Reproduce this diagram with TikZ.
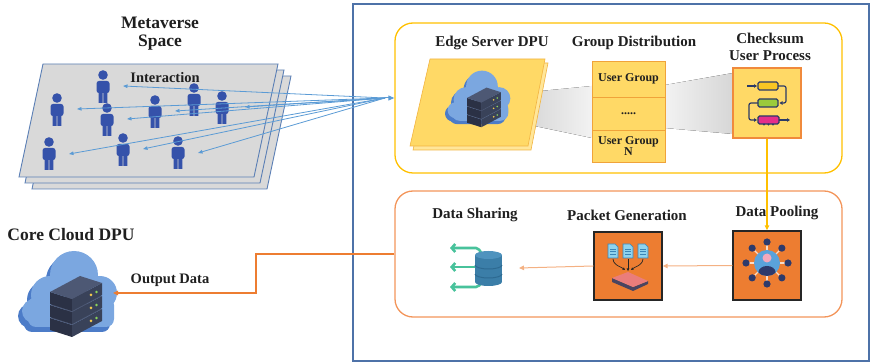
\documentclass[tikz,border=0pt]{standalone}
\usepackage{fontspec}
\setmainfont{Liberation Serif}
\usetikzlibrary{arrows.meta}

% palette
\definecolor{txt}{HTML}{1F1F1F}
\definecolor{framebl}{HTML}{4E72A8}
\definecolor{yelbox}{HTML}{FFC000}
\definecolor{orgbox}{HTML}{F3955A}
\definecolor{yfill}{HTML}{FFD966}
\definecolor{yback}{HTML}{FFE699}
\definecolor{yedge}{HTML}{F2B441}
\definecolor{tblorg}{HTML}{F0A33A}
\definecolor{chkorg}{HTML}{F08A3C}
\definecolor{oboxfill}{HTML}{ED7D31}
\definecolor{oboxline}{HTML}{262626}
\definecolor{peach}{HTML}{F4B183}
\definecolor{orng}{HTML}{ED7D31}
\definecolor{pgray}{HTML}{D9D9D9}
\definecolor{pborder}{HTML}{5B7FB5}
\definecolor{pblue}{HTML}{3552AA}
\definecolor{lblue}{HTML}{5B9BD5}
\definecolor{clouddk}{HTML}{4C7CC8}
\definecolor{cloudlt}{HTML}{7BA7E0}
\definecolor{srvtop}{HTML}{4D5874}
\definecolor{srvleft}{HTML}{2B3145}
\definecolor{srvright}{HTML}{394259}
\definecolor{ledg}{HTML}{8CD45A}
\definecolor{ledy}{HTML}{F2C94C}
\definecolor{chknavy}{HTML}{2B3A67}
\definecolor{chky}{HTML}{F9C623}
\definecolor{chkg}{HTML}{9BCB3B}
\definecolor{chkm}{HTML}{E52E8A}
\definecolor{docfill}{HTML}{8FD3EE}
\definecolor{docline}{HTML}{3A86B8}
\definecolor{trayt}{HTML}{EA7D7B}
\definecolor{trayd}{HTML}{4A4560}
\definecolor{poolblue}{HTML}{5AA2DA}
\definecolor{poolpink}{HTML}{F5A8BC}
\definecolor{poolnavy}{HTML}{2E3A6B}
\definecolor{poolline}{HTML}{FADCC8}
\definecolor{sharegreen}{HTML}{48C29B}
\definecolor{cyl}{HTML}{3B7EA8}
\definecolor{cyltop}{HTML}{4F93BE}
\definecolor{cylband}{HTML}{2D6A91}

% isometric rack of three servers; #1,#2 = left corner of the top face, #3 = scale
\newcommand{\srvstack}[3]{%
  \begin{scope}[shift={(#1,#2)}, scale=#3]
    \foreach \d in {26,13,0}{
      \fill[srvleft]  (0,\d) -- (22,\d+7) -- (22,\d+19) -- (0,\d+12) -- cycle;
      \fill[srvright] (22,\d+7) -- (52,\d-9) -- (52,\d+3) -- (22,\d+19) -- cycle;
      \fill[srvtop]   (0,\d) -- (30,\d-16) -- (52,\d-9) -- (22,\d+7) -- cycle;
      \fill[ledy] (41,\d+2.9) circle (1.4);
      \fill[ledg] (46.5,\d+0.1) circle (1.4);
    }
  \end{scope}}

% two-tone cloud; #1,#2 = top-left corner, #3 = scale
\newcommand{\cloudicon}[3]{%
  \begin{scope}[shift={(#1,#2)}, scale=#3]
    \begin{scope}[shift={(-4,5)}]
      \fill[clouddk] (56,28) circle (24) (82,46) circle (17) (32,48) circle (19) (16,64) circle (12);
      \fill[clouddk, rounded corners=8pt] (10,50) rectangle (96,80);
    \end{scope}
    \fill[cloudlt] (56,28) circle (24) (82,46) circle (17) (32,48) circle (19) (16,64) circle (12);
    \fill[cloudlt, rounded corners=8pt] (10,50) rectangle (96,80);
  \end{scope}}

% standing user figure; #1 = centre x, #2 = top of head
\newcommand{\persona}[2]{%
  \begin{scope}[shift={(#1,#2)}]
    \fill[pblue] (0,5) circle (4.8);
    \fill[pblue, rounded corners=2.5pt] (-6.5,23) rectangle (6.5,11);
    \fill[pblue] (-4.3,21) rectangle (-0.4,33) (0.4,21) rectangle (4.3,33);
  \end{scope}}

\begin{document}
\begin{tikzpicture}[x=1pt, y=-1pt,
  lbl/.style={font=\fontsize{15}{17}\selectfont\bfseries, text=txt, inner sep=0pt, align=center},
  biglbl/.style={font=\fontsize{17.5}{18}\selectfont\bfseries, text=txt, inner sep=0pt, align=center},
  smlbl/.style={font=\fontsize{14.5}{16}\selectfont\bfseries, text=txt, inner sep=0pt},
  cell/.style={draw=tblorg, fill=yfill, line width=0.9pt, minimum width=73pt, inner sep=0pt,
    font=\fontsize{12}{12}\selectfont\bfseries, text=txt, align=center},
  obox/.style={draw=oboxline, fill=oboxfill, line width=1.4pt, minimum width=68pt, minimum height=68pt, inner sep=0pt},
  panel/.style={line width=1.3pt, rounded corners=18pt, minimum width=447pt, inner sep=0pt},
  userarrow/.style={lblue, line width=0.8pt, -{Triangle[length=4.5pt,width=3.5pt]}},
  flowtip/.style={-{Triangle[length=5pt,width=4.5pt]}},
  sharearrow/.style={sharegreen, line width=2.6pt, rounded corners=2pt, -{Straight Barb[length=3.5pt,width=8pt]}}
]
\useasboundingbox (0,0) rectangle (871,363);

% ---------- outer processing frame and the two stages ----------
\node[draw=framebl, line width=1.5pt, minimum width=516pt, minimum height=357pt, inner sep=0pt] (frame) at (611,182.5) {};
\node[panel, draw=yelbox, minimum height=150pt] (edgebox) at (618.5,98) {};
\node[panel, draw=orgbox, minimum height=126pt] (procbox) at (618.5,254) {};

% ---------- metaverse space: stacked planes with users ----------
\filldraw[fill=pgray, draw=pborder, line width=0.9pt] (56,76) -- (291,76) -- (267,189) -- (32,189) -- cycle;
\filldraw[fill=pgray, draw=pborder, line width=0.9pt] (49,70) -- (284,70) -- (260,183) -- (25,183) -- cycle;
\filldraw[fill=pgray, draw=pborder, line width=0.9pt] (43,64) -- (278,64) -- (254,177) -- (19,177) -- cycle;

\node[biglbl] (metalbl) at (160,34) {Metaverse\\Space};
\node[smlbl] (interlbl) at (165,78) {Interaction};

\persona{103}{70}
\persona{57}{93}
\persona{107}{103}
\persona{155}{95}
\persona{194}{83}
\persona{222}{91}
\persona{49}{137}
\persona{123}{133}
\persona{178}{136}

% interaction links from the edge server back to the users
\coordinate (hub) at (385,98);
\coordinate (t1) at (123,86);
\coordinate (t2) at (77,109);
\coordinate (t3) at (127,119);
\coordinate (t4) at (175,111);
\coordinate (t5) at (245,107);
\coordinate (t6) at (69,154);
\coordinate (t7) at (143,149);
\coordinate (t8) at (198,153);
\foreach \t in {t1,t2,t3,t4,t5,t6,t7,t8}
  \draw[userarrow] (hub) -- (\t);
\draw[lblue, line width=1pt, -{Triangle[length=6pt,width=5pt]}] (hub) -- (edgebox.west);

% ---------- edge server DPU ----------
\node[lbl] (edgelbl) at (492,43) {Edge Server DPU};
\fill[left color=gray!32, right color=gray!10] (530,92) -- (592,86) -- (592,138) -- (525,124) -- cycle;
\fill[left color=gray!10, right color=gray!32] (665,85) -- (733,73) -- (733,134) -- (665,128) -- cycle;
\filldraw[fill=yback, draw=yedge, line width=0.6pt] (433,63) -- (548,63) -- (531,150) -- (413,150) -- cycle;
\filldraw[fill=yfill, draw=yedge, line width=0.6pt] (430,59) -- (545,59) -- (528,146) -- (410,146) -- cycle;
\cloudicon{445}{68}{0.66}
\srvstack{467}{98}{0.65}

% ---------- group distribution ----------
\node[lbl] (grplbl) at (634,43) {Group Distribution};
\node[cell, minimum height=36pt] (g1) at (628.5,79) {User Group};
\node[cell, minimum height=33pt] (g2) at (628.5,113.5) {.....};
\node[cell, minimum height=32pt] (g3) at (628.5,146) {User Group\\[-1pt]N};

% ---------- checksum user process ----------
\node[lbl] (chklbl) at (770,46.5) {Checksum\\User Process};
\node[draw=chkorg, fill=yfill, line width=1.3pt, minimum width=68pt, minimum height=70pt, inner sep=0pt] (chk) at (767,103) {};
\begin{scope}[chknavy, line width=1.2pt]
  \filldraw[fill=chky, rounded corners=1.5pt] (758,82) rectangle (778,90);
  \filldraw[fill=chkg, rounded corners=1.5pt] (758,99) rectangle (778,107);
  \filldraw[fill=chkm, rounded corners=1.5pt] (758,116) rectangle (779,124);
  \draw[-{Triangle[length=3pt,width=3.5pt]}] (747,86) -- (757,86);
  \draw[rounded corners=2pt, -{Triangle[length=3pt,width=3.5pt]}] (778,86) -- (786,86) -- (786,103) -- (779.5,103);
  \draw[rounded corners=2pt, -{Triangle[length=3pt,width=3.5pt]}] (758,103) -- (749,103) -- (749,120) -- (757,120);
  \draw[-{Triangle[length=3pt,width=3.5pt]}] (779,120) -- (790,120);
  \fill (764,124.5) circle (1.1) (768.5,124.5) circle (1.1) (773,124.5) circle (1.1);
\end{scope}

% ---------- data pooling ----------
\node[lbl] (poollbl) at (777,213) {Data Pooling};
\node[obox, minimum height=69pt] (pool) at (767,265.5) {};
\foreach \a in {0,45,...,315}{
  \draw[poolline, line width=1.2pt] (767,263) -- ++(\a:21);
  \fill[poolnavy] (767,263) ++(\a:21) circle (3.6);
}
\fill[poolblue] (767,263) circle (13);
\begin{scope}
  \clip (767,263) circle (13);
  \fill[poolnavy] (767,272) ellipse (8.5 and 6);
\end{scope}
\fill[poolpink] (767,258) circle (4.5);

% ---------- packet generation ----------
\node[lbl] (pktlbl) at (627,215) {Packet Generation};
\node[obox] (pkt) at (628,266) {};
\foreach \x in {613,628,643}{
  \filldraw[fill=docfill, draw=docline, line width=0.6pt] (\x-5,244) -- (\x+2,244) -- (\x+5,247) -- (\x+5,258) -- (\x-5,258) -- cycle;
  \draw[docline, line width=0.7pt] (\x-3,249) -- (\x+3,249) (\x-3,251.5) -- (\x+3,251.5) (\x-3,254) -- (\x+3,254);
}
\begin{scope}[gray!30!black, line width=0.7pt, -{Triangle[length=2.5pt,width=2.5pt]}]
  \draw (613,259) .. controls (614,266) and (620,266) .. (625,270);
  \draw (628,259) -- (628,271);
  \draw (643,259) .. controls (642,266) and (636,266) .. (631,270);
\end{scope}
\fill[trayd] (612,278) -- (633,287) -- (648,281) -- (648,284) -- (633,291) -- (612,282) -- cycle;
\fill[trayt] (612,278) -- (628,272) -- (648,281) -- (633,287) -- cycle;

% ---------- data sharing ----------
\node[lbl] (sharelbl) at (475,215) {Data Sharing};
\coordinate (shareR) at (519,268);
\draw[sharearrow] (482,254) -- (478,248) -- (450,248);
\draw[sharearrow] (477,267) -- (450,267);
\draw[sharearrow] (482,282) -- (478,287) -- (450,287);
\fill[cyl] (475,255) rectangle (502,282);
\fill[cyl] (488.5,282) ellipse (13.5 and 4);
\fill[cyltop] (488.5,255) ellipse (13.5 and 4);
\draw[cylband, line width=1pt] (475,265) arc[start angle=180, end angle=360, x radius=13.5, y radius=-4];
\draw[cylband, line width=1pt] (475,274) arc[start angle=180, end angle=360, x radius=13.5, y radius=-4];

% ---------- flow between the processing steps ----------
\draw[yelbox, line width=1.2pt, flowtip] (chk.south) -- (pool.north);
\draw[peach, line width=1pt, flowtip] (pool.west) -- (pkt.east);
\draw[peach, line width=1pt, flowtip] (pkt.west) -- (shareR);

% ---------- core cloud DPU ----------
\node[biglbl] (corelbl) at (71,235) {Core Cloud DPU};
\cloudicon{18}{247}{1}
\srvstack{50}{292}{1}
\coordinate (core) at (113,293);
\coordinate (bend) at (256,293);
\draw[orng, line width=1.3pt, flowtip] (procbox.west) -| (bend) -- (core);
\node[smlbl] (outlbl) at (170,280) {Output Data};

\end{tikzpicture}
\end{document}
